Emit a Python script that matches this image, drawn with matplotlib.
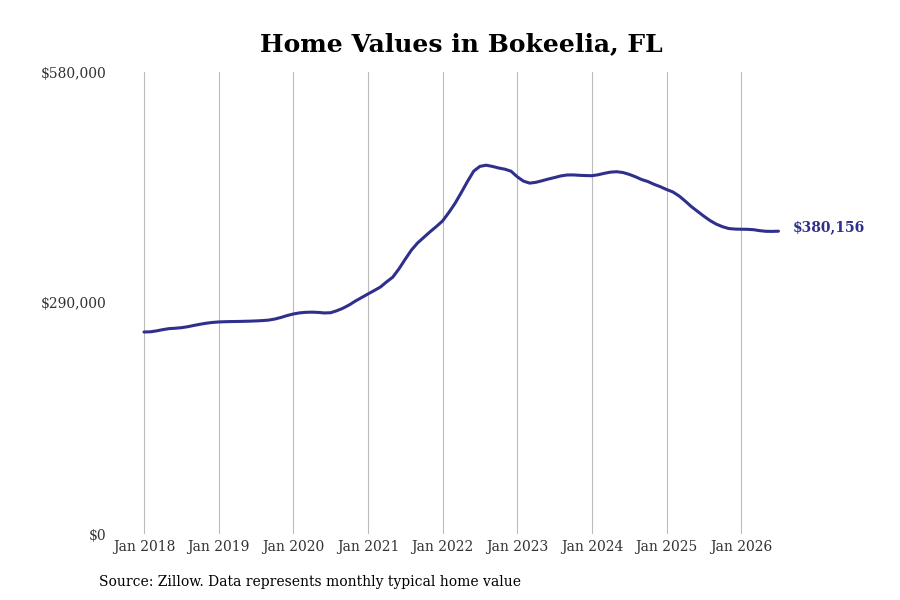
import matplotlib
matplotlib.use("Agg")
import matplotlib.pyplot as plt

# =========================
# Data: monthly typical home value, Jan 2018 .. Jul 2026
# =========================
year_labels = ["Jan 2018", "Jan 2019", "Jan 2020", "Jan 2021", "Jan 2022",
               "Jan 2023", "Jan 2024", "Jan 2025", "Jan 2026"]

values = [
    # 2018
    253600, 253800, 255000, 256500, 257800, 258300, 259000, 260200, 261800, 263300, 264600, 265600,
    # 2019
    266200, 266500, 266700, 266800, 267000, 267200, 267500, 267900, 268500, 269800, 271800, 274200,
    # 2020
    276200, 277600, 278300, 278500, 278200, 277500, 277800, 280300, 283500, 287600, 292500, 296900,
    # 2021
    301300, 305600, 310000, 316500, 322500, 333000, 345000, 356500, 365500, 372500, 379500, 386000,
    # 2022
    393000, 403500, 415000, 428500, 442500, 455500, 461500, 463000, 461500, 459500, 458000, 455500,
    # 2023
    448500, 443000, 440500, 441500, 443500, 445600, 447500, 449500, 450700, 450800, 450300, 450000,
    # 2024
    449800, 451000, 452800, 454300, 454800, 453800, 451500, 448500, 445000, 442500, 439000, 436000,
    # 2025
    432500, 429500, 424500, 418000, 411000, 405000, 399000, 393500, 389000, 385800, 383500, 382800,
    # 2026
    382600, 382500, 382000, 380800, 380000, 379900, 380156,
]

y_ticks = [0, 290000, 580000]
y_tick_labels = ["$0", "$290,000", "$580,000"]

title = "Home Values in Bokeelia, FL"
source = "Source: Zillow. Data represents monthly typical home value"
last_label = "$380,156"

line_color = "#2f2f8c"
font = "DejaVu Serif"

# =========================
# Plot
# =========================
fig = plt.figure(figsize=(9, 6), dpi=100)
ax = fig.add_axes([115 / 900, 66 / 600, 670 / 900, 462 / 600])

months = list(range(len(values)))
ax.plot(months, values, color=line_color, linewidth=2.2, solid_capstyle="round")

ax.set_xlim(-4.66, 103.05)
ax.set_ylim(0, 580000)

ax.set_xticks([12 * i for i in range(len(year_labels))])
ax.set_xticklabels(year_labels, family=font, fontsize=10, color="#333333")
ax.set_yticks(y_ticks)
ax.set_yticklabels(y_tick_labels, family=font, fontsize=10, color="#333333")
ax.tick_params(axis="both", length=0)
ax.tick_params(axis="y", pad=6)
ax.tick_params(axis="x", pad=4)

ax.grid(axis="x", color="#bbbbbb", linewidth=0.8)
ax.grid(axis="y", visible=False)
for s in ax.spines.values():
    s.set_visible(False)

ax.annotate(last_label, xy=(months[-1], values[-1]), xytext=(10, 3),
            textcoords="offset points", family=font, fontsize=10,
            fontweight="bold", color=line_color, va="center", ha="left")

fig.text(0.513, 0.927, title, family=font, fontsize=18, fontweight="bold",
         ha="center", va="center")
fig.text(99 / 900, 1 - 582 / 600, source, family=font, fontsize=10,
         ha="left", va="center")

fig.savefig("out.png", dpi=100)
